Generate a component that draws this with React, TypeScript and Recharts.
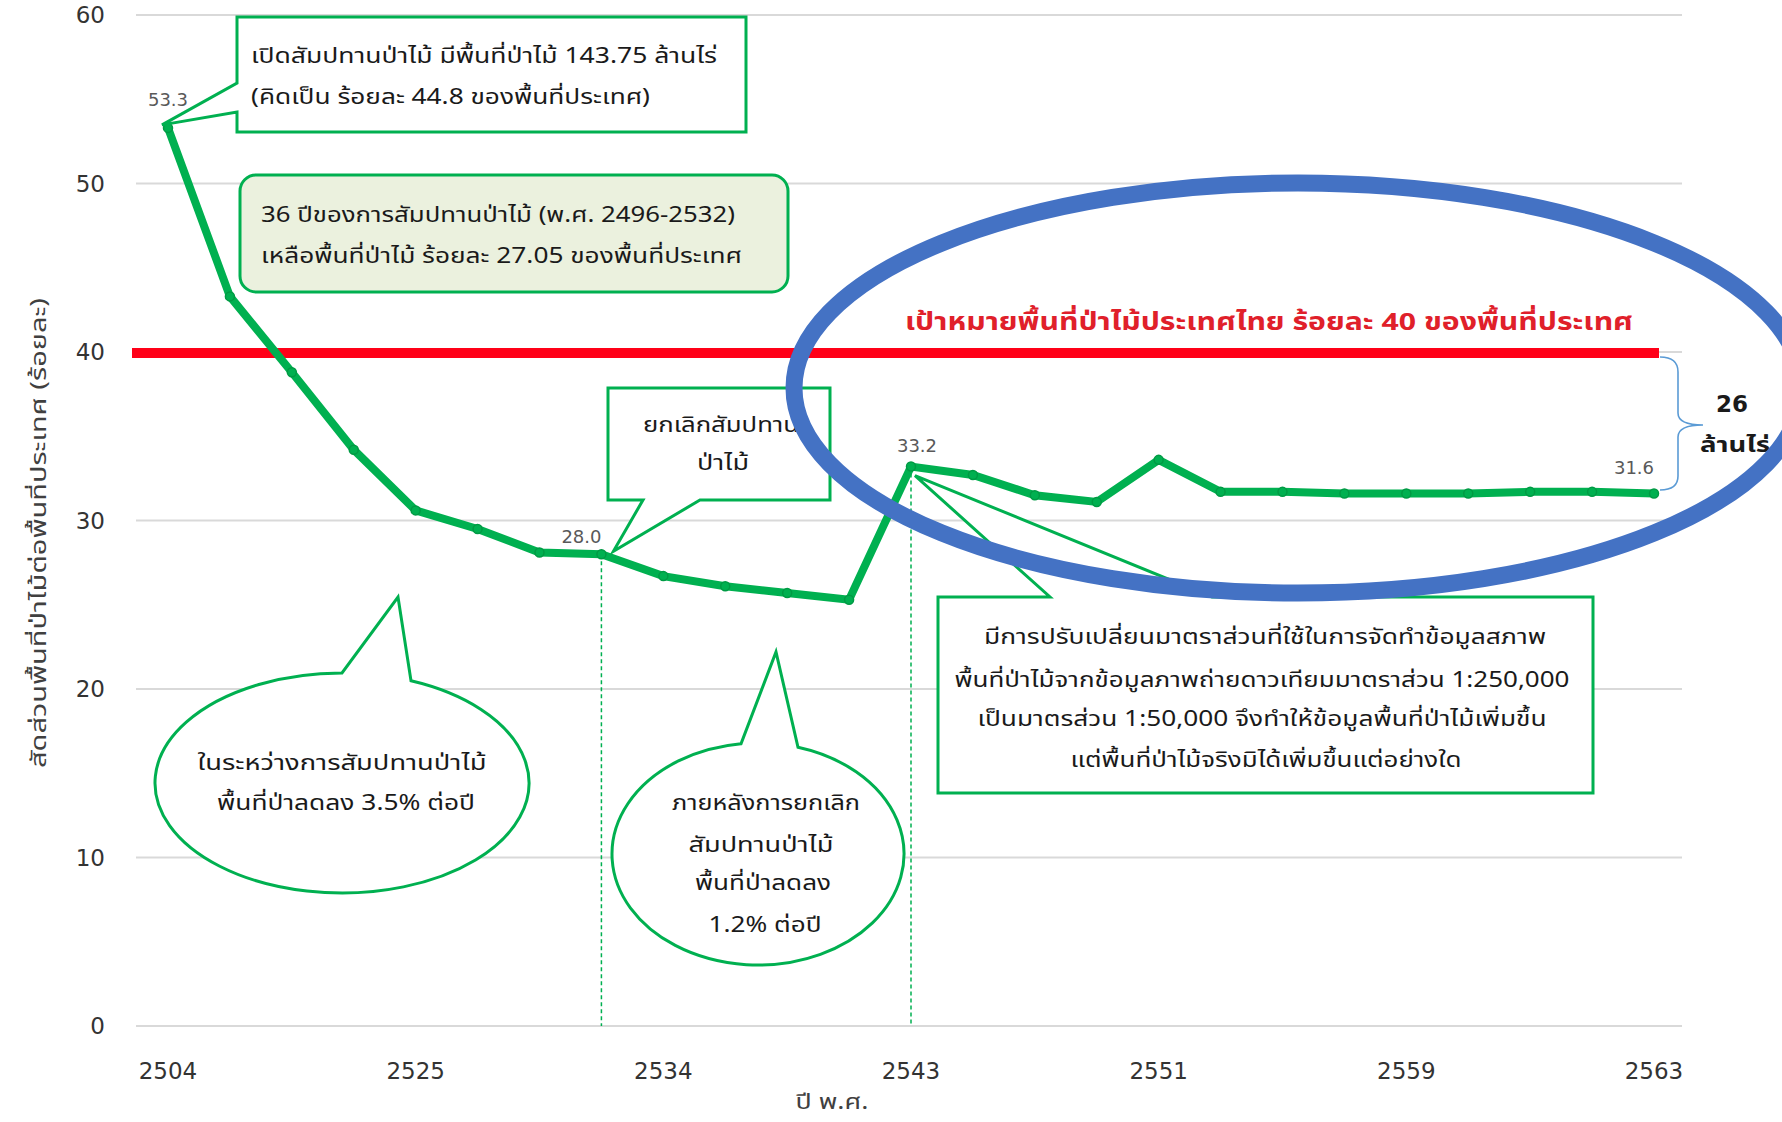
import React from 'react';
import { LineChart, Line, XAxis, YAxis, CartesianGrid, ReferenceLine, LabelList } from 'recharts';

// ---- data ----
const years = ['2504', '2516', '2519', '2521', '2525', '2528', '2531', '2532', '2534', '2536', '2538', '2541', '2543', '2547', '2548', '2549', '2551', '2556', '2557', '2558', '2559', '2560', '2561', '2562', '2563'];
const forestShare = [53.3, 43.3, 38.8, 34.2, 30.6, 29.5, 28.1, 28.0, 26.7, 26.1, 25.7, 25.3, 33.2, 32.7, 31.5, 31.1, 33.6, 31.7, 31.7, 31.6, 31.6, 31.6, 31.7, 31.7, 31.6];
const yTicks = [0, 10, 20, 30, 40, 50, 60];
const targetShare = 40;
const labelledYears = ['2504', '2532', '2543', '2563'];
const concessionEndYear = '2532';
const scaleChangeYear = '2543';

const data = years.map((year, i) => ({ year, value: forestShare[i] }));

// ---- layout ----
const W = 1782;
const H = 1122;
const M = { top: 15, right: 100, bottom: 36, left: 0 };
const Y_AXIS_W = 136;
const X_AXIS_H = 60;
const PAD_L = 32;
const PAD_R = 28;

const GREEN = '#00B050';
const THAI = "Tahoma, 'Noto Sans Thai', 'Noto Sans Thai UI', Loma, Garuda, 'Noto Sans', 'DejaVu Sans', sans-serif";
const NUM = "'DejaVu Sans', Verdana, sans-serif";

// helpers for annotation anchors (mirror chart layout)
const plotL = M.left + Y_AXIS_W;
const plotR = W - M.right;
const plotT = M.top;
const plotB = H - M.bottom - X_AXIS_H;
const step = (plotR - plotL - PAD_L - PAD_R) / (years.length - 1);
const px = (i: number) => plotL + PAD_L + i * step;
const py = (v: number) => plotB - (v / 60) * (plotB - plotT);

const ellTop = (cx: number, cy: number, rx: number, ry: number, x: number) =>
  cy - ry * Math.sqrt(Math.max(0, 1 - ((x - cx) / rx) ** 2));

const bubblePath = (cx: number, cy: number, rx: number, ry: number, bl: number, br: number, ax: number, ay: number) => {
  const yl = ellTop(cx, cy, rx, ry, bl);
  const yr = ellTop(cx, cy, rx, ry, br);
  return `M ${bl} ${yl} A ${rx} ${ry} 0 1 0 ${br} ${yr} L ${ax} ${ay} Z`;
};

const labelOffsets: Record<string, [number, number]> = {
  '2504': [0, -28],
  '2532': [-20, -18],
  '2543': [6, -21],
  '2563': [-20, -26],
};

const PointLabel = (props: any) => {
  const { x, y, index } = props;
  const yr = years[index];
  if (!labelledYears.includes(yr)) return null;
  const [dx, dy] = labelOffsets[yr] || [0, -20];
  return (
    <text x={x + dx} y={y + dy} textAnchor="middle" dominantBaseline="central" fontSize={18} fill="#595959" fontFamily={NUM}>
      {forestShare[index].toFixed(1)}
    </text>
  );
};

const TargetLine = (props: any) => {
  const { x1, y1, x2, y2 } = props;
  return <line x1={x1 - 4} y1={y1 + 1} x2={x2 - 23} y2={y2 + 1} stroke="#FF0018" strokeWidth={10} />;
};

const T = (p: { x: number; y: number; len?: number; size?: number; anchor?: 'start' | 'middle' | 'end'; fill?: string; weight?: any; children: any; family?: string }) => (
  <text
    x={p.x}
    y={p.y}
    fontSize={p.size ?? 21}
    fill={p.fill ?? '#1a1a1a'}
    fontWeight={p.weight ?? 'normal'}
    textAnchor={p.anchor ?? 'start'}
    dominantBaseline="central"
    fontFamily={p.family ?? THAI}
    textLength={p.len}
    lengthAdjust={p.len ? 'spacingAndGlyphs' : undefined}
  >
    {p.children}
  </text>
);

const Overlay = () => {
  const a0x = px(0), a0y = py(forestShare[0]);
  const a7x = px(7), a7y = py(forestShare[7]);
  const a12x = px(12), a12y = py(forestShare[12]);
  return (
    <svg width={W} height={H} style={{ position: 'absolute', left: 0, top: 0, pointerEvents: 'none' }}>
      {/* axis titles */}
      <g transform="translate(39,533) rotate(-90)">
        <T x={0} y={0} anchor="middle" len={470} fill="#404040">สัดส่วนพื้นที่ป่าไม้ต่อพื้นที่ประเทศ (ร้อยละ)</T>
      </g>
      <T x={832} y={1102} anchor="middle" len={73} fill="#404040">ปี พ.ศ.</T>

      {/* box 1 */}
      <path d={`M 237 17 H 746 V 132 H 237 V 112 L ${a0x - 6} ${a0y - 3} L 237 83 Z`} fill="#fff" stroke={GREEN} strokeWidth={3} />
      <T x={251} y={56} len={466}>เปิดสัมปทานป่าไม้ มีพื้นที่ป่าไม้ 143.75 ล้านไร่</T>
      <T x={251} y={97} len={399}>(คิดเป็น ร้อยละ 44.8 ของพื้นที่ประเทศ)</T>

      {/* box 2 */}
      <rect x={240} y={175} width={548} height={117} rx={16} fill="#EBF1DE" stroke={GREEN} strokeWidth={3} />
      <T x={261} y={215} len={474}>36 ปีของการสัมปทานป่าไม้ (พ.ศ. 2496-2532)</T>
      <T x={261} y={256} len={481}>เหลือพื้นที่ป่าไม้ ร้อยละ 27.05 ของพื้นที่ประเทศ</T>

      {/* callout: end of concessions */}
      <path d={`M 608 388 H 830 V 500 H 700 L ${a7x + 12} ${a7y - 3} L 643 500 H 608 Z`} fill="#fff" stroke={GREEN} strokeWidth={3} />
      <T x={721} y={425} anchor="middle" len={156}>ยกเลิกสัมปทาน</T>
      <T x={723} y={463} anchor="middle" len={52}>ป่าไม้</T>

      {/* bubble 1 */}
      <path d={bubblePath(342, 783, 187, 110, 342, 411, 398, 597)} fill="#fff" stroke={GREEN} strokeWidth={3} />
      <T x={342} y={763} anchor="middle" len={289}>ในระหว่างการสัมปทานป่าไม้</T>
      <T x={346} y={803} anchor="middle" len={258}>พื้นที่ป่าลดลง 3.5% ต่อปี</T>

      {/* bubble 2 */}
      <path d={bubblePath(758, 854, 146, 111, 741, 798, 776, 652)} fill="#fff" stroke={GREEN} strokeWidth={3} />
      <T x={766} y={803} anchor="middle" len={188}>ภายหลังการยกเลิก</T>
      <T x={761} y={845} anchor="middle" len={145}>สัมปทานป่าไม้</T>
      <T x={763} y={883} anchor="middle" len={136}>พื้นที่ป่าลดลง</T>
      <T x={765} y={925} anchor="middle" len={113}>1.2% ต่อปี</T>

      {/* callout: scale change */}
      <path d={`M 938 597 H 1050 L ${a12x + 4} ${a12y + 9} L 1212 597 H 1593 V 793 H 938 Z`} fill="#fff" stroke={GREEN} strokeWidth={3} />
      <T x={1265} y={637} anchor="middle" len={562}>มีการปรับเปลี่ยนมาตราส่วนที่ใช้ในการจัดทำข้อมูลสภาพ</T>
      <T x={1262} y={680} anchor="middle" len={615}>พื้นที่ป่าไม้จากข้อมูลภาพถ่ายดาวเทียมมาตราส่วน 1:250,000</T>
      <T x={1262} y={719} anchor="middle" len={569}>เป็นมาตรส่วน 1:50,000 จึงทำให้ข้อมูลพื้นที่ป่าไม้เพิ่มขึ้น</T>
      <T x={1266} y={760} anchor="middle" len={391}>แต่พื้นที่ป่าไม้จริงมิได้เพิ่มขึ้นแต่อย่างใด</T>

      {/* target text */}
      <T x={905} y={323} len={728} size={24} fill="#E0202A" weight="bold">เป้าหมายพื้นที่ป่าไม้ประเทศไทย ร้อยละ 40 ของพื้นที่ประเทศ</T>

      {/* bracket */}
      <path d="M 1660 357 Q 1678 357 1678 372 V 413 Q 1678 425 1703 425 Q 1678 425 1678 437 V 476 Q 1678 490 1660 490" fill="none" stroke="#5B9BD5" strokeWidth={1.6} />
      <T x={1732} y={404} anchor="middle" size={23} weight="bold" family={NUM}>26</T>
      <T x={1735} y={445} anchor="middle" len={70} size={22} weight="bold">ล้านไร่</T>

      {/* highlight ellipse */}
      <ellipse cx={1298} cy={388} rx={504} ry={205} fill="none" stroke="#4472C4" strokeWidth={17} />
    </svg>
  );
};

export default function App() {
  return (
    <div style={{ position: 'absolute', left: 0, top: 0, width: W, height: H, background: '#fff', overflow: 'hidden' }}>
      <LineChart width={W} height={H} data={data} margin={M}>
        <CartesianGrid vertical={false} stroke="#D9D9D9" strokeWidth={2} />
        <XAxis
          dataKey="year"
          interval={3}
          padding={{ left: PAD_L, right: PAD_R }}
          axisLine={false}
          tickLine={false}
          height={X_AXIS_H}
          tickMargin={31}
          tick={{ fontSize: 23, fill: '#333333', fontFamily: NUM }}
        />
        <YAxis
          domain={[0, 60]}
          ticks={yTicks}
          width={Y_AXIS_W}
          axisLine={false}
          tickLine={false}
          tickMargin={25}
          tick={{ fontSize: 23, fill: '#333333', fontFamily: NUM }}
        />
        <ReferenceLine y={targetShare} shape={TargetLine} ifOverflow="visible" />
        <ReferenceLine
          segment={[{ x: concessionEndYear, y: forestShare[years.indexOf(concessionEndYear)] }, { x: concessionEndYear, y: 0 }]}
          stroke={GREEN}
          strokeWidth={1.5}
          strokeDasharray="4 3"
        />
        <ReferenceLine
          segment={[{ x: scaleChangeYear, y: forestShare[years.indexOf(scaleChangeYear)] }, { x: scaleChangeYear, y: 0 }]}
          stroke={GREEN}
          strokeWidth={1.5}
          strokeDasharray="4 3"
        />
        <Line
          type="linear"
          dataKey="value"
          stroke={GREEN}
          strokeWidth={8}
          dot={{ r: 4.5, fill: GREEN, stroke: '#009A44', strokeWidth: 1.5 }}
          isAnimationActive={false}
        >
          <LabelList dataKey="value" content={PointLabel} />
        </Line>
      </LineChart>
      <Overlay />
    </div>
  );
}
